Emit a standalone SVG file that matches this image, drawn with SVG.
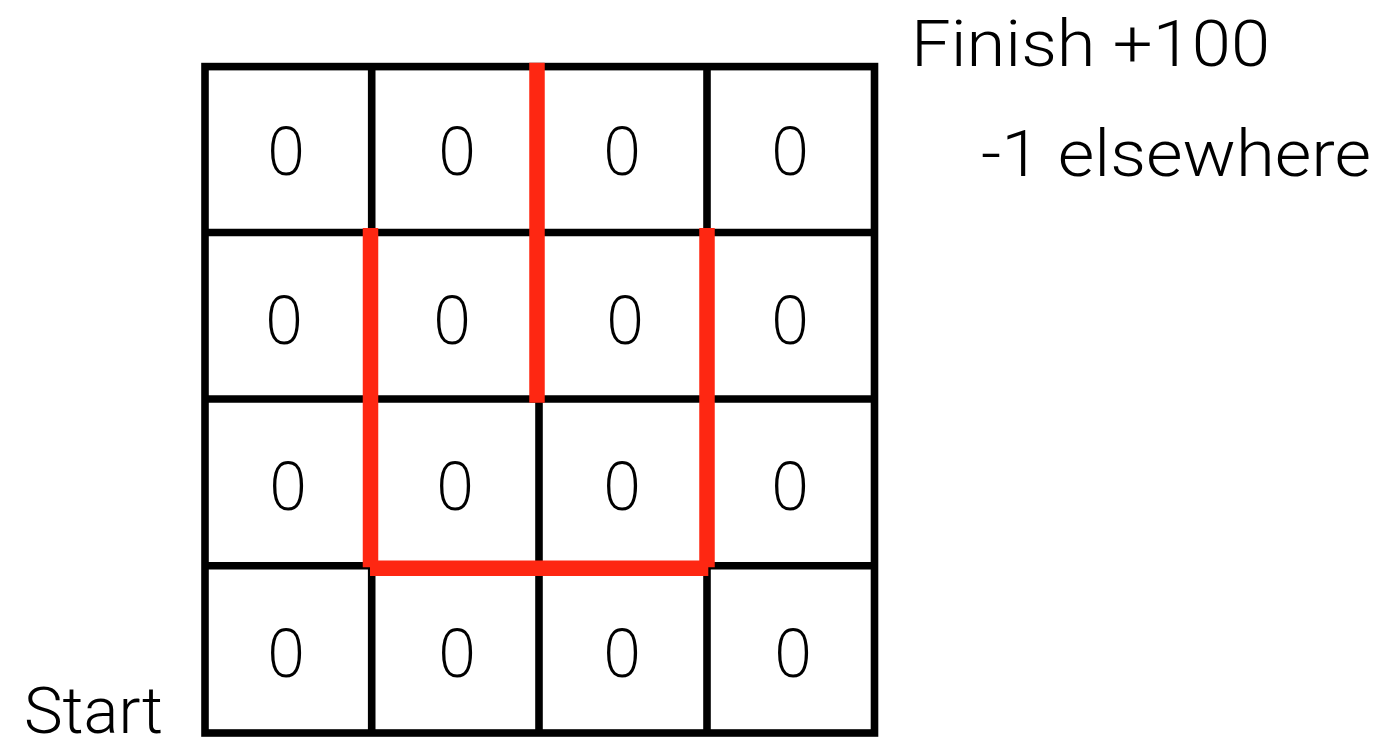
<svg xmlns="http://www.w3.org/2000/svg" width="1383" height="738" viewBox="0 0 1383 738">
<style>
.grid{stroke:#000;stroke-width:7.6;fill:none}
.wall{stroke:#FE2712;stroke-width:15.5;fill:none;stroke-linecap:butt}
.v{font-family:"Open Sans","Noto Sans",sans-serif;font-size:66px;font-weight:300;fill:#000;text-anchor:middle}
.lbl{font-family:Roboto,"Liberation Sans",Arial,sans-serif;font-size:64px;fill:#000;font-weight:300}
</style>
<rect width="1383" height="738" fill="#fff"/>
<g id="grid" class="grid">
<rect x="205" y="66.6" width="669.5" height="666.4"/>
<line x1="371.7" y1="66.6" x2="371.7" y2="733"/>
<line x1="539" y1="66.6" x2="539" y2="733"/>
<line x1="707" y1="66.6" x2="707" y2="733"/>
<line x1="205" y1="232.5" x2="874.5" y2="232.5"/>
<line x1="205" y1="399" x2="874.5" y2="399"/>
<line x1="205" y1="565.8" x2="874.5" y2="565.8"/>
</g>
<g id="cells">
<g id="c00"><text class="v" x="286" y="175">0</text></g>
<g id="c01"><text class="v" x="457" y="175">0</text></g>
<g id="c02"><text class="v" x="622" y="175">0</text></g>
<g id="c03"><text class="v" x="790" y="175">0</text></g>
<g id="c10"><text class="v" x="284" y="344">0</text></g>
<g id="c11"><text class="v" x="452" y="344">0</text></g>
<g id="c12"><text class="v" x="625" y="344">0</text></g>
<g id="c13"><text class="v" x="790" y="344">0</text></g>
<g id="c20"><text class="v" x="288" y="510">0</text></g>
<g id="c21"><text class="v" x="455" y="510">0</text></g>
<g id="c22"><text class="v" x="622" y="510">0</text></g>
<g id="c23"><text class="v" x="790" y="510">0</text></g>
<g id="c30"><text class="v" x="286" y="677">0</text></g>
<g id="c31"><text class="v" x="457" y="677">0</text></g>
<g id="c32"><text class="v" x="622" y="677">0</text></g>
<g id="c33"><text class="v" x="793" y="677">0</text></g>
</g>
<g id="walls" class="wall">
<line x1="537" y1="62.7" x2="537" y2="402.7"/>
<line x1="370.5" y1="228" x2="370.5" y2="567.3"/>
<line x1="707" y1="228" x2="707" y2="567.3"/>
<line x1="370" y1="568.3" x2="708.3" y2="568.3"/>
</g>
<g id="labels">
<text class="lbl" x="911" y="66" textLength="359" lengthAdjust="spacingAndGlyphs">Finish +100</text>
<text class="lbl" x="981" y="176" textLength="390" lengthAdjust="spacingAndGlyphs">-1 elsewhere</text>
<text class="lbl" x="24" y="733" textLength="139" lengthAdjust="spacingAndGlyphs">Start</text>
</g>
</svg>
